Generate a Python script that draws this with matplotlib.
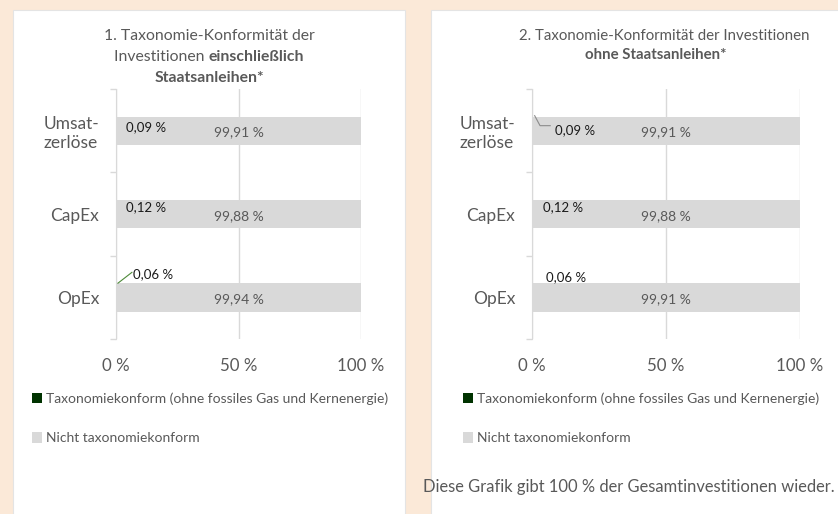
import matplotlib
matplotlib.use("Agg")
import matplotlib.pyplot as plt
from matplotlib.patches import Rectangle

plt.rcParams['font.family'] = ['Lato', 'DejaVu Sans']

categories = ['Umsat-\nzerlöse', 'CapEx', 'OpEx']
x_ticks = [0, 50, 100]
x_tick_labels = ['0 %', '50 %', '100 %']

# chart 1: including sovereign bonds
conform_1 = [0.09, 0.12, 0.06]
nonconform_1 = [99.91, 99.88, 99.94]
conform_1_labels = ['0,09 %', '0,12 %', '0,06 %']
nonconform_1_labels = ['99,91 %', '99,88 %', '99,94 %']

# chart 2: without sovereign bonds
conform_2 = [0.09, 0.12, 0.06]
nonconform_2 = [99.91, 99.88, 99.91]
conform_2_labels = ['0,09 %', '0,12 %', '0,06 %']
nonconform_2_labels = ['99,91 %', '99,88 %', '99,91 %']

legend_labels = ['Taxonomiekonform (ohne fossiles Gas und Kernenergie)',
                 'Nicht taxonomiekonform']

GREEN = '#003300'
GREY_BAR = '#D9D9D9'
TXT = '#595959'
BG = '#FBE9D8'

W, H = 838, 514
fig = plt.figure(figsize=(W / 100, H / 100), dpi=100, facecolor=BG)


def fx(px):
    return px / W


def fy(py):
    return 1 - py / H


# white panels
for x0, x1 in [(13, 405), (431, 845)]:
    fig.patches.append(Rectangle((fx(x0), fy(530)), fx(x1 - x0), (530 - 10) / H,
                                 transform=fig.transFigure, facecolor='white',
                                 edgecolor='#E4E4E4', linewidth=0.8, zorder=-5))


def draw_panel(ax, conform, nonconform, conf_labels, nonconf_labels, offsets, leader_color):
    y = list(range(len(categories)))
    ax.barh(y, conform, height=0.34, color=GREEN, label=legend_labels[0], zorder=3)
    ax.barh(y, nonconform, left=conform, height=0.34, color=GREY_BAR,
            label=legend_labels[1], zorder=3)
    ax.set_xlim(0, 100)
    ax.set_ylim(2.5, -0.5)
    ax.set_yticks(y)
    ax.set_yticklabels(categories, fontsize=12.5, color=TXT, multialignment='left')
    ax.set_yticks([-0.5, 0.5, 1.5, 2.5], minor=True)
    ax.tick_params(axis='y', which='major', length=0, pad=12)
    ax.tick_params(axis='y', which='minor', length=4, color='#D9D9D9', width=1)
    ax.set_xticks(x_ticks)
    ax.set_xticklabels(x_tick_labels, fontsize=12.2, color=TXT)
    ax.tick_params(axis='x', length=0, pad=14)
    ax.grid(axis='x', color='#D9D9D9', linewidth=1, zorder=1)
    ax.set_axisbelow(True)
    for s in ['top', 'right', 'bottom']:
        ax.spines[s].set_visible(False)
    ax.spines['left'].set_color('#D9D9D9')
    ax.patch.set_alpha(0)
    for i in y:
        ax.text(conform[i] + nonconform[i] / 2, i + 0.02, nonconf_labels[i],
                ha='center', va='center', fontsize=10, color=TXT, zorder=4)
        dx, dy, leader = offsets[i]
        ax.annotate(conf_labels[i], xy=(conform[i], i), xytext=(dx, dy),
                    textcoords='offset pixels', ha='left', va='center',
                    fontsize=9.5, color='#1A1A1A', zorder=5)
        if leader:
            xs = [p[0] for p in leader]
            ys = [p[1] for p in leader]
            ax.plot(xs, ys, color=leader_color[i], linewidth=0.8, zorder=5)


ax1 = fig.add_axes([fx(116), fy(339), fx(361 - 116), (339 - 89) / H], zorder=2)
offsets_1 = [(10, 4, None), (10, 7, None), (17, 23, [(0.8, 1.83), (6.5, 1.7)])]
draw_panel(ax1, conform_1, nonconform_1, conform_1_labels, nonconform_1_labels,
           offsets_1, ['#7F7F7F', '#7F7F7F', '#4E8A3A'])

ax2 = fig.add_axes([fx(532), fy(339), fx(800 - 532), (339 - 89) / H], zorder=2)
offsets_2 = [(23, 1, [(1.0, -0.18), (3.0, -0.06), (6.8, -0.06)]),
             (11, 7, None), (14, 20, None)]
draw_panel(ax2, conform_2, nonconform_2, conform_2_labels, nonconform_2_labels,
           offsets_2, ['#8C8C8C', '#7F7F7F', '#7F7F7F'])

# titles
fig.text(fx(209), fy(36), '1. Taxonomie-Konformität der', ha='center', va='center',
         fontsize=11.3, color=TXT)
t_a = fig.text(fx(209), fy(57), 'Investitionen ', ha='left', va='center',
               fontsize=11.3, color=TXT)
t_b = fig.text(fx(209), fy(57), 'einschließlich', ha='left', va='center',
               fontsize=11.3, color=TXT, fontweight='bold')
fig.text(fx(209), fy(78), 'Staatsanleihen*', ha='center', va='center',
         fontsize=11.3, color=TXT, fontweight='bold')
fig.text(fx(664), fy(36), '2. Taxonomie-Konformität der Investitionen', ha='center',
         va='center', fontsize=10.8, color=TXT)
fig.text(fx(656), fy(55), 'ohne Staatsanleihen*', ha='center', va='center',
         fontsize=10.8, color=TXT, fontweight='bold')

# legends
handles, labels = ax1.get_legend_handles_labels()
for lx in [32, 463]:
    fig.legend(handles, labels, loc='upper left', bbox_to_anchor=(fx(lx), fy(392)),
               frameon=False, fontsize=10, labelcolor=TXT, handlelength=0.75,
               handleheight=0.75, handletextpad=0.25, labelspacing=2.0,
               borderpad=0, borderaxespad=0)

fig.text(fx(629), fy(487), 'Diese Grafik gibt 100 % der Gesamtinvestitionen wieder.',
         ha='center', va='center', fontsize=11.9, color=TXT)

# centre the mixed-weight title line
fig.canvas.draw()
r = fig.canvas.get_renderer()
wa = t_a.get_window_extent(r).width
wb = t_b.get_window_extent(r).width
start = 209 - (wa + wb) / 2
t_a.set_x(fx(start))
t_b.set_x(fx(start + wa))

fig.savefig('out.png', dpi=100, facecolor=BG)
